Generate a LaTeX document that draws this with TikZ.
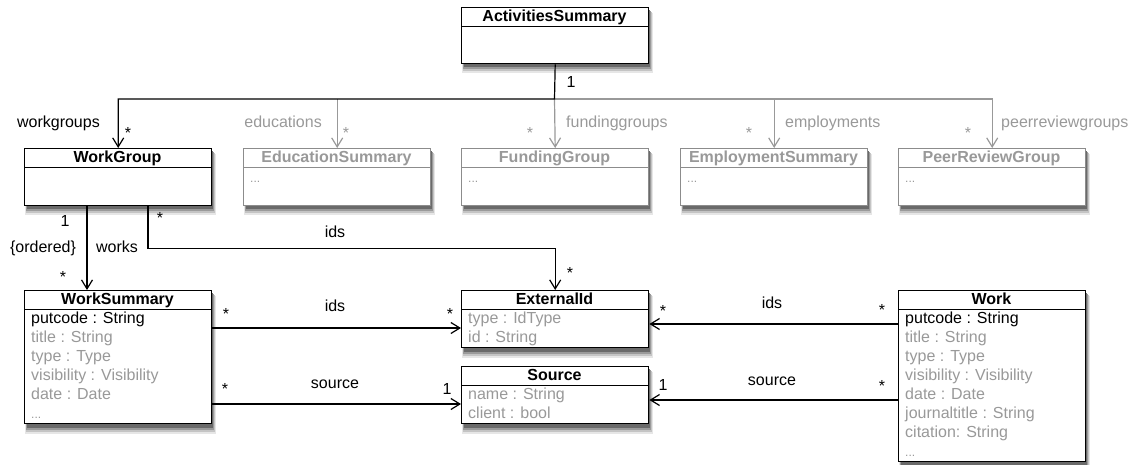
\documentclass[tikz,border=0pt]{standalone}
\usepackage{fontspec}
\setmainfont{Liberation Sans}
\usetikzlibrary{arrows.meta}
\definecolor{lg}{HTML}{999999}
\definecolor{lgb}{HTML}{8C8C8C}
\definecolor{sh1}{HTML}{E6E6E6}
\definecolor{sh2}{HTML}{C4C4C4}
\definecolor{sh3}{HTML}{9A9A9A}
\definecolor{sh4}{HTML}{6A6A6A}
\newcommand{\dfont}{\fontsize{16}{19}\selectfont}
\tikzset{
  umlbox/.style={draw, line width=1.4pt, fill=white, rectangle, inner sep=0pt,
    anchor=north west, minimum width=187pt},
  gumlbox/.style={umlbox, draw=lgb},
  ttl/.style={font=\dfont\bfseries, inner sep=0pt, anchor=base},
  gttl/.style={ttl, text=lg},
  attr/.style={font=\dfont, inner sep=0pt, anchor=base west, text=lg},
  battr/.style={attr, text=black},
  dots/.style={font=\fontsize{12}{14}\selectfont, inner sep=0pt, anchor=base west, text=lg},
  lbl/.style={font=\dfont, inner sep=0pt, anchor=base},
  glbl/.style={lbl, text=lg},
  hsep/.style={line width=1pt},
  ghsep/.style={hsep, draw=lgb},
  assoc/.style={line width=1.2pt, -{Straight Barb[length=9pt,width=11pt,line width=1.2pt]}},
  gassoc/.style={assoc, draw=lg},
}
\begin{document}
\begin{tikzpicture}[x=1pt,y=-1pt]
\useasboundingbox (0,0) rectangle (1138,465);

% ---------- soft drop shadows (drawn first, under the boxes) ----------
\foreach \bx/\by/\bh in {461/7/56, 24/148/57, 243/148/57, 461/148/57, 680/148/57,
                         898/148/57, 24/290/133, 461/290/57, 461/366/57, 898/290/171}{
  \fill[sh1] ({\bx+1},{\by+6}) rectangle ({\bx+192},{\by+\bh+10.5});
  \fill[sh2] ({\bx+1.5},{\by+5}) rectangle ({\bx+191},{\by+\bh+8.5});
  \fill[sh3] ({\bx+2},{\by+4}) rectangle ({\bx+190},{\by+\bh+6.5});
  \fill[sh4] ({\bx+2.5},{\by+3}) rectangle ({\bx+189.2},{\by+\bh+4.5});
}

% ---------- boxes ----------
\node[umlbox, minimum height=56pt] (AS) at (461,7) {};
\node[umlbox, minimum height=57pt] (WG) at (24,148) {};
\node[gumlbox, minimum height=57pt] (ES) at (243,148) {};
\node[gumlbox, minimum height=57pt] (FG) at (461,148) {};
\node[gumlbox, minimum height=57pt] (EmS) at (680,148) {};
\node[gumlbox, minimum height=57pt] (PR) at (898,148) {};
\node[umlbox, minimum height=133pt] (WS) at (24,290) {};
\node[umlbox, minimum height=57pt] (EI) at (461,290) {};
\node[umlbox, minimum height=57pt] (SR) at (461,366) {};
\node[umlbox, minimum height=171pt] (W) at (898,290) {};

% header separators
\draw[hsep] ([yshift=-19.5pt]AS.north west) -- ([yshift=-19.5pt]AS.north east);
\draw[hsep] ([yshift=-20pt]WG.north west) -- ([yshift=-20pt]WG.north east);
\draw[ghsep] ([yshift=-20pt]ES.north west) -- ([yshift=-20pt]ES.north east);
\draw[ghsep] ([yshift=-20pt]FG.north west) -- ([yshift=-20pt]FG.north east);
\draw[ghsep] ([yshift=-20pt]EmS.north west) -- ([yshift=-20pt]EmS.north east);
\draw[ghsep] ([yshift=-20pt]PR.north west) -- ([yshift=-20pt]PR.north east);
\draw[hsep] ([yshift=-19.5pt]WS.north west) -- ([yshift=-19.5pt]WS.north east);
\draw[hsep] ([yshift=-19.5pt]EI.north west) -- ([yshift=-19.5pt]EI.north east);
\draw[hsep] ([yshift=-19.5pt]SR.north west) -- ([yshift=-19.5pt]SR.north east);
\draw[hsep] ([yshift=-19.5pt]W.north west) -- ([yshift=-19.5pt]W.north east);

% titles
\node[ttl] at (554.5,21.5) {ActivitiesSummary};
\node[ttl] at (117.5,162.5) {WorkGroup};
\node[gttl] at (336.5,162.5) {EducationSummary};
\node[gttl] at (554.5,162.5) {FundingGroup};
\node[gttl] at (773.5,162.5) {EmploymentSummary};
\node[gttl] at (991.5,162.5) {PeerReviewGroup};
\node[ttl] at (117.5,304.5) {WorkSummary};
\node[ttl] at (554.5,304.5) {ExternalId};
\node[ttl] at (554.5,380.5) {Source};
\node[ttl] at (991.5,304.5) {Work};

% gray boxes content
\node[dots] at (250,183) {...};
\node[dots] at (468,183) {...};
\node[dots] at (687,183) {...};
\node[dots] at (905,183) {...};

% WorkSummary attributes
\node[battr] at (31,323.5) {putcode : String};
\node[attr] at (31,342.5) {title : String};
\node[attr] at (31,361.5) {type : Type};
\node[attr] at (31,380.5) {visibility : Visibility};
\node[attr] at (31,399.5) {date : Date};
\node[dots] at (31,418.5) {...};

% ExternalId attributes
\node[attr] at (468,323.5) {type : IdType};
\node[attr] at (468,342.5) {id : String};

% Source attributes
\node[attr] at (468,399.5) {name : String};
\node[attr] at (468,418.5) {client : bool};

% Work attributes
\node[battr] at (905,323.5) {putcode : String};
\node[attr] at (905,342.5) {title : String};
\node[attr] at (905,361.5) {type : Type};
\node[attr] at (905,380.5) {visibility : Visibility};
\node[attr] at (905,399.5) {date : Date};
\node[attr] at (905,418.5) {journaltitle : String};
\node[attr] at (905,437.5) {citation: String};
\node[dots] at (905,456.5) {...};

% ---------- connectors ----------
\coordinate (hub) at (554.5,99);
\draw[gassoc] (hub) -- (FG.north);
\draw[gassoc] (hub) -| (EmS.north);
\draw[gassoc] (hub) -| (PR.north);
\draw[gassoc] (ES.north |- hub) -- (ES.north);
\draw[assoc] (AS.south) -- (hub) -| (WG.north);

\draw[assoc] ([xshift=63pt]WG.south west) -- ([xshift=63pt]WS.north west);
\draw[assoc] ([xshift=124pt]WG.south west) -- ++(0,42) -| (EI.north);
\draw[assoc] ([yshift=-38pt]WS.north east) -- ([yshift=-38pt]EI.north west);
\draw[assoc] ([yshift=-114pt]WS.north east) -- ([yshift=-38pt]SR.north west);
\draw[assoc] ([yshift=-34pt]W.north west) -- ([yshift=-34pt]EI.north east);
\draw[assoc] ([yshift=-110pt]W.north west) -- ([yshift=-34pt]SR.north east);

% ---------- labels ----------
\node[lbl] at (571,88) {1};
\node[lbl, anchor=base east] at (100,128) {workgroups};
\node[lbl] at (128,139) {*};
\node[glbl, anchor=base east] at (322,128) {educations};
\node[glbl] at (346,139) {*};
\node[glbl] at (530,139) {*};
\node[glbl, anchor=base west] at (566,128) {fundinggroups};
\node[glbl] at (749,139) {*};
\node[glbl, anchor=base west] at (785,128) {employments};
\node[glbl] at (968,139) {*};
\node[glbl, anchor=base west] at (1001,128) {peerreviewgroups};

\node[lbl] at (65,226) {1};
\node[lbl] at (160,224) {*};
\node[lbl] at (43,252) {\{ordered\}};
\node[lbl] at (117,252) {works};
\node[lbl] at (63,282) {*};
\node[lbl] at (335,238) {ids};
\node[lbl] at (570,279) {*};

\node[lbl] at (226,319) {*};
\node[lbl] at (335,311) {ids};
\node[lbl] at (450,319) {*};
\node[lbl] at (225,394) {*};
\node[lbl] at (335,388) {source};
\node[lbl] at (447,394) {1};

\node[lbl] at (772,308) {ids};
\node[lbl] at (882,315) {*};
\node[lbl] at (663,316) {*};
\node[lbl] at (772,385) {source};
\node[lbl] at (882,391) {*};
\node[lbl] at (663,390) {1};
\end{tikzpicture}
\end{document}
